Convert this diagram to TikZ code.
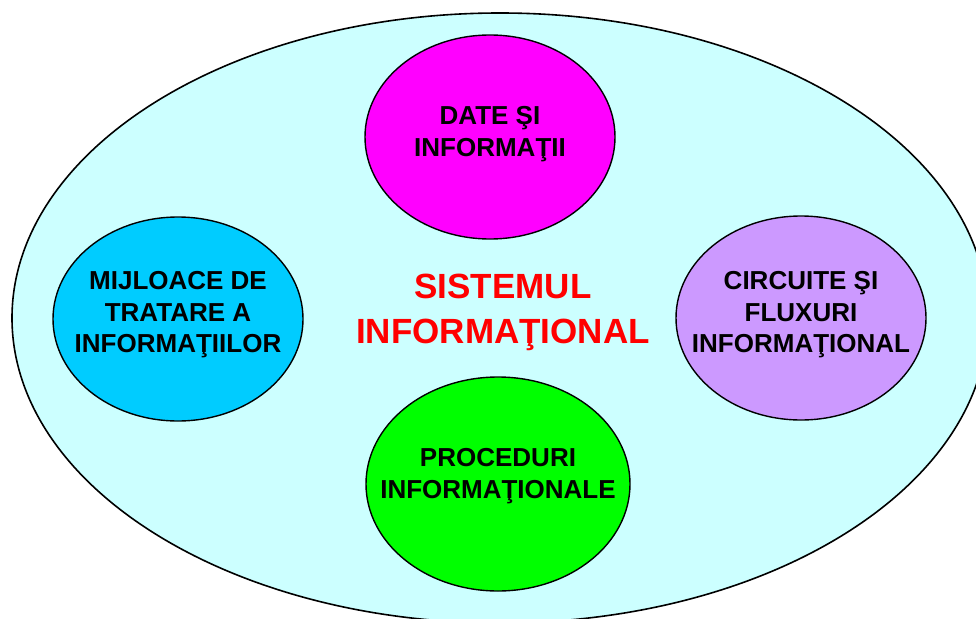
\documentclass[tikz,border=0pt]{standalone}
\usepackage{fontspec}
\setmainfont{Liberation Sans}
\usetikzlibrary{shapes.geometric}
\definecolor{bgcyan}{HTML}{CCFFFF}
\definecolor{cmag}{HTML}{FF00FF}
\definecolor{ccyan}{HTML}{00CCFF}
\definecolor{clilac}{HTML}{CC99FF}
\definecolor{cgreen}{HTML}{00FF00}
\definecolor{cred}{HTML}{FF0000}
\tikzset{
  blob/.style={ellipse, draw=black, line width=1.4pt, inner sep=0pt,
    minimum width=250pt, minimum height=204pt},
  lbl/.style={align=center, inner sep=0pt, font=\bfseries\fontsize{26}{31.5}\selectfont, text=black},
  ttl/.style={align=center, inner sep=0pt, font=\bfseries\fontsize{35}{45}\selectfont, text=cred}
}
\begin{document}
\begin{tikzpicture}[x=1pt, y=-1pt]
\useasboundingbox (0,0) rectangle (976,618);
\clip (0,0) rectangle (976,618);
\node[ellipse, draw=black, line width=1.6pt, fill=bgcyan, inner sep=0pt,
  minimum width=976pt, minimum height=610pt] (sys) at (500,318) {};
\node[blob, fill=cmag] (date) at (490,137) {};
\node[blob, fill=ccyan] (mij) at (178,319) {};
\node[blob, fill=clilac] (circ) at (801,318) {};
\node[blob, fill=cgreen, minimum width=264pt, minimum height=214pt] (proc) at (498,484) {};
\node[lbl] (datet) at (490,134) {DATE ŞI\\INFORMAŢII};
\node[lbl] (mijt) at (178,315) {MIJLOACE DE\\TRATARE A\\INFORMAŢIILOR};
\node[lbl] (circt) at (801,315) {CIRCUITE ŞI\\FLUXURI\\INFORMAŢIONAL};
\node[lbl] (proct) at (498,476) {PROCEDURI\\INFORMAŢIONALE};
\node[ttl] (title) at (503,312) {SISTEMUL\\INFORMAŢIONAL};
\end{tikzpicture}
\end{document}
